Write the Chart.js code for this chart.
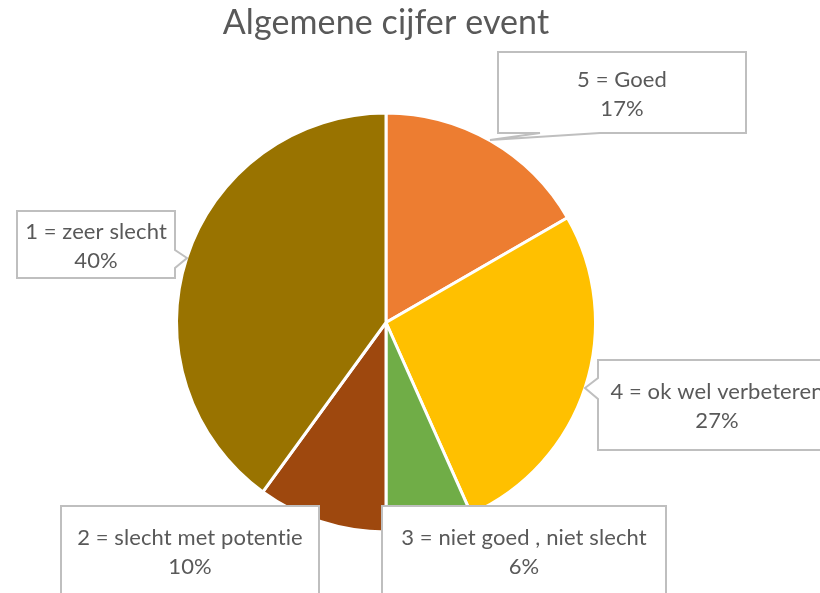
<!DOCTYPE html>
<html lang="nl">
  <head>
    <meta charset="UTF-8" />
    <title>Algemene cijfer event</title>
    <script src="https://cdn.jsdelivr.net/npm/chart.js"></script>
    <style>
      html, body { margin: 0; padding: 0; background: #fff; }
      #wrap { width: 820px; height: 593px; }
    </style>
  </head>
  <body>
    <div id="wrap"><canvas id="pieChart" width="820" height="593"></canvas></div>

    <script>
      // data (aantal stemmen per cijfer, 30 in totaal)
      const title = "Algemene cijfer event";
      const categories = [
        "5 = Goed",
        "4 = ok wel verbeteren",
        "3 = niet goed , niet slecht",
        "2 = slecht met potentie",
        "1 = zeer slecht",
      ];
      const values = [5, 8, 2, 3, 12];
      // percentages as printed on the chart (rounded to add up to 100)
      const percentLabels = ["17%", "27%", "6%", "10%", "40%"];
      const sliceColors = ["#ED7D31", "#FFC000", "#70AD47", "#9E480E", "#997300"];

      // callout boxes (layout only), same order as categories
      const callouts = [
        { x: 498, y: 52, w: 248, h: 81, tip: [490, 140], side: "bottom", base: [540, 600] },
        { x: 598, y: 360, w: 238, h: 90, tip: [585, 388], side: "left", base: [378, 399] },
        { x: 382, y: 506, w: 284, h: 120 },
        { x: 61, y: 506, w: 258, h: 120 },
        { x: 17, y: 211, w: 158, h: 67, tip: [187, 258], side: "right", base: [250, 268] },
      ];

      const textColor = "#595959";
      const fontFamily = "Lato, 'Open Sans', sans-serif";

      const calloutPlugin = {
        id: "callouts",
        afterDraw(chart) {
          const ctx = chart.ctx;
          ctx.save();
          // a tiny letter spacing keeps Lato from using its "ti" ligature
          ctx.letterSpacing = "0.1px";

          // title
          ctx.fillStyle = textColor;
          ctx.font = "34px " + fontFamily;
          ctx.textAlign = "center";
          ctx.textBaseline = "alphabetic";
          ctx.fillText(title, 386, 34);

          callouts.forEach((c, i) => {
            ctx.beginPath();
            ctx.moveTo(c.x, c.y);
            if (c.side === "right") {
              ctx.lineTo(c.x + c.w, c.y);
              ctx.lineTo(c.x + c.w, c.base[0]);
              ctx.lineTo(c.tip[0], c.tip[1]);
              ctx.lineTo(c.x + c.w, c.base[1]);
              ctx.lineTo(c.x + c.w, c.y + c.h);
              ctx.lineTo(c.x, c.y + c.h);
            } else if (c.side === "left") {
              ctx.lineTo(c.x + c.w, c.y);
              ctx.lineTo(c.x + c.w, c.y + c.h);
              ctx.lineTo(c.x, c.y + c.h);
              ctx.lineTo(c.x, c.base[1]);
              ctx.lineTo(c.tip[0], c.tip[1]);
              ctx.lineTo(c.x, c.base[0]);
            } else if (c.side === "bottom") {
              ctx.lineTo(c.x + c.w, c.y);
              ctx.lineTo(c.x + c.w, c.y + c.h);
              ctx.lineTo(c.base[1], c.y + c.h);
              ctx.lineTo(c.tip[0], c.tip[1]);
              ctx.lineTo(c.base[0], c.y + c.h);
              ctx.lineTo(c.x, c.y + c.h);
            } else {
              ctx.lineTo(c.x + c.w, c.y);
              ctx.lineTo(c.x + c.w, c.y + c.h);
              ctx.lineTo(c.x, c.y + c.h);
            }
            ctx.closePath();
            ctx.fillStyle = "#ffffff";
            ctx.fill();
            ctx.lineWidth = 2;
            ctx.strokeStyle = "#BFBFBF";
            ctx.stroke();

            const cx = c.x + c.w / 2;
            const firstLine = c.side ? c.y + c.h / 2 - 6 : c.y + 39;
            ctx.fillStyle = textColor;
            ctx.font = "22px " + fontFamily;
            ctx.textBaseline = "alphabetic";
            ctx.fillText(categories[i], cx, firstLine);
            ctx.fillText(percentLabels[i], cx, firstLine + 29);
          });
          ctx.restore();
        },
      };

      new Chart(document.getElementById("pieChart"), {
        type: "pie",
        data: {
          labels: categories,
          datasets: [
            {
              data: values,
              backgroundColor: sliceColors,
              borderColor: "#ffffff",
              borderWidth: 3,
              hoverOffset: 0,
              offset: 0,
            },
          ],
        },
        options: {
          responsive: false,
          animation: false,
          events: [],
          layout: { padding: { left: 175, right: 223, top: 111.5, bottom: 59.5 } },
          plugins: {
            legend: { display: false },
            tooltip: { enabled: false },
            title: { display: false },
          },
        },
        plugins: [calloutPlugin],
      });
    </script>
  </body>
</html>
